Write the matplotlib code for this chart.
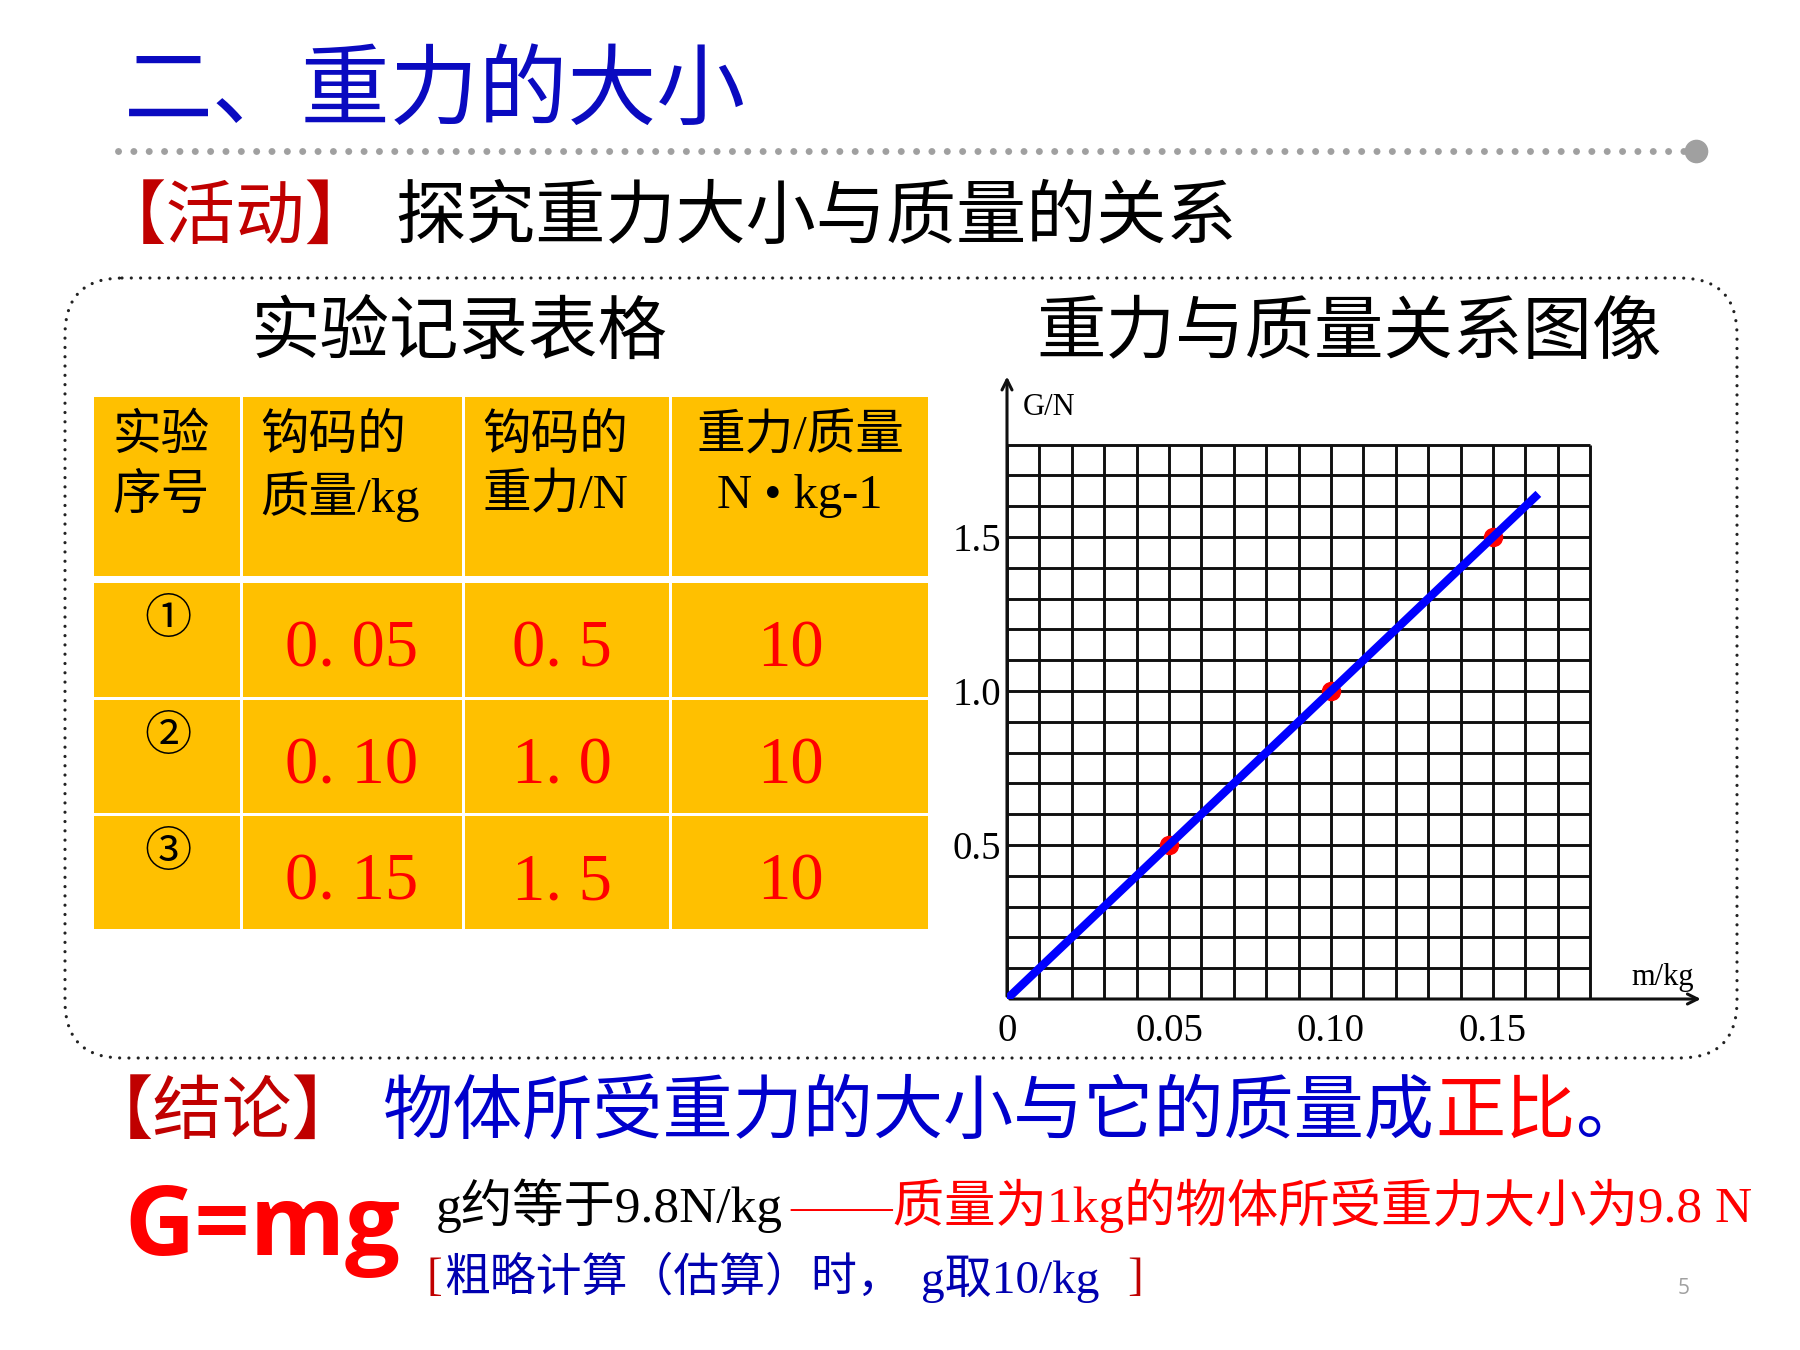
import matplotlib
matplotlib.use('Agg')
import matplotlib.pyplot as plt
import numpy as np
from matplotlib.patches import FancyBboxPatch, Rectangle

plt.rcParams['font.family'] = ['Noto Sans CJK SC', 'DejaVu Sans']
CJK = ['Noto Sans CJK SC', 'DejaVu Sans']
SERIF = ['Liberation Serif', 'Noto Sans CJK SC']

# ---- data ----
trial_no = ['①', '②', '③']
mass_kg = [0.05, 0.10, 0.15]
weight_N = [0.5, 1.0, 1.5]
ratio = [10, 10, 10]
headers = [['实验', '序号'], ['钩码的', '质量/kg'], ['钩码的', '重力/N'], ['重力/质量', 'N • kg-1']]
fit_m = [0, 0.164]
fit_G = [0, 1.64]
x_ticks = [0, 0.05, 0.10, 0.15]
x_ticklabels = ['0', '0.05', '0.10', '0.15']
y_ticks = [0.5, 1.0, 1.5]
y_ticklabels = ['0.5', '1.0', '1.5']
grid_m = np.arange(0, 19) * 0.01
grid_G = np.arange(0, 19) * 0.1

RED = '#FF0000'
DARKRED = '#C00000'
BLUE = '#0000CC'

fig = plt.figure(figsize=(18, 13.5), dpi=100)
fig.patch.set_facecolor('white')

# overlay axes in pixel coords
ax0 = fig.add_axes([0, 0, 1, 1])
ax0.set_xlim(0, 1800)
ax0.set_ylim(1350, 0)
ax0.axis('off')


def em(size):
    return size * 100 / 72


def put_run(x, y, parts, size, family=CJK):
    # all full-width glyphs, advance by em per char
    for s, c in parts:
        ax0.text(x, y, s, color=c, fontsize=size, family=family, va='center', ha='left')
        x += len(s) * em(size)


# title + grey dotted rule
ax0.text(124, 93, '二、重力的大小', color='#0A0AC0', fontsize=64, family=CJK, va='center')
ax0.plot([118, 1686], [151, 151], color='#A0A0A0', lw=5, ls=(0, (0.01, 2.2)),
         dash_capstyle='round')
ax0.plot(1696, 151, 'o', color='#A0A0A0', ms=16)

put_run(97, 218, [('【活动】', DARKRED)], 50)
put_run(395, 218, [('探究重力大小与质量的关系', 'black')], 50.5)

# dotted rounded frame
frame = FancyBboxPatch((65, 278), 1672, 780, boxstyle='round,pad=0,rounding_size=57',
                       fill=False, ec='#222222', lw=2.3, ls=(0, (0.01, 2.9)), capstyle='round')
ax0.add_patch(frame)

ax0.text(459, 333, '实验记录表格', fontsize=50, family=CJK, va='center', ha='center')
ax0.text(1349, 333, '重力与质量关系图像', fontsize=50, family=CJK, va='center', ha='center')

# ---- table ----
col_x = [94, 241, 463, 670, 928]
row_y = [(397, 576), (583, 697), (700, 813), (816, 929)]
for (top, bot) in row_y:
    for i in range(4):
        x1 = col_x[i] + (1.5 if i > 0 else 0)
        x2 = col_x[i + 1] - (1.5 if i < 3 else 0)
        ax0.add_patch(Rectangle((x1, top), x2 - x1, bot - top, color='#FFC000', lw=0))

head_x = [113, 260, 482, 800]
for i, (l1, l2) in enumerate(headers):
    ha = 'center' if i == 3 else 'left'
    ax0.text(head_x[i], 436, l1, fontsize=35, family=SERIF, va='center', ha=ha)
    ax0.text(head_x[i], 496, l2, fontsize=35, family=SERIF, va='center', ha=ha)

val_x = [352, 562, 790]
for r in range(3):
    top, bot = row_y[r + 1]
    yc = (top + bot) / 2 + 10
    ax0.text(168, top + 37, trial_no[r], fontsize=34, family=CJK, va='center', ha='center')
    ax0.text(val_x[0], yc, f'{mass_kg[r]:.2f}'.replace('.', '. '), color=RED, fontsize=48,
             family=SERIF, va='center', ha='center')
    ax0.text(val_x[1], yc, f'{weight_N[r]:.1f}'.replace('.', '. '), color=RED, fontsize=48,
             family=SERIF, va='center', ha='center')
    ax0.text(val_x[2], yc, str(ratio[r]), color=RED, fontsize=48,
             family=SERIF, va='center', ha='center')

# ---- graph ----
px_m = 3240   # px per kg
px_G = 308    # px per N
ox, oy = 1007, 999
xmax, ymax = 0.215, 2.03
ax = fig.add_axes([ox / 1800, (1350 - oy) / 1350, xmax * px_m / 1800, ymax * px_G / 1350])
ax.set_xlim(0, xmax)
ax.set_ylim(0, ymax)
ax.patch.set_alpha(0)
for s in ax.spines.values():
    s.set_visible(False)

ax.vlines(grid_m, 0, grid_G[-1], color='#101010', lw=2.1, zorder=1)
ax.hlines(grid_G, 0, grid_m[-1], color='#101010', lw=2.1, zorder=1)

ax.annotate('', xy=(xmax, 0), xytext=(0, 0), annotation_clip=False,
            arrowprops=dict(arrowstyle='->', lw=2.2, color='#101010', mutation_scale=18))
ax.annotate('', xy=(0, ymax), xytext=(0, 0), annotation_clip=False,
            arrowprops=dict(arrowstyle='->', lw=2.2, color='#101010', mutation_scale=18))

ax.plot(mass_kg, weight_N, 'o', color=RED, ms=13, zorder=3)
ax.plot(fit_m, fit_G, color='#0000FF', lw=6, solid_capstyle='butt', zorder=4)

ax.set_xticks(x_ticks)
ax.set_xticklabels(x_ticklabels, family='Liberation Serif', fontsize=28)
ax.set_yticks(y_ticks)
ax.set_yticklabels(y_ticklabels, family='Liberation Serif', fontsize=28)
ax.tick_params(length=0)
ax.tick_params(axis='x', pad=10)
ax.tick_params(axis='y', pad=4)

ax.text(0.0048, 1.92, 'G/N', family='Liberation Serif', fontsize=22, va='center', ha='left')
ax.text(0.2025, 0.07, 'm/kg', family='Liberation Serif', fontsize=22, va='center', ha='center')

# ---- conclusion ----
put_run(84, 1113, [('【结论】', DARKRED)], 50)
put_run(383, 1113, [('物体所受重力的大小与它的质量成', BLUE), ('正比', RED), ('。', BLUE)], 50.5)

ax0.text(124, 1255, 'G=mg', color=RED, fontsize=70, family='Open Sans', weight='bold',
         va='baseline', ha='left')

ax0.text(436, 1206, 'g约等于9.8N/kg', color='black', fontsize=37, family=SERIF, va='center')
ax0.text(790, 1206, '——质量为1kg的物体所受重力大小为9.8 N', color=RED, fontsize=37,
         family=SERIF, va='center')
ax0.text(427, 1279, '[', color=DARKRED, fontsize=34, family=SERIF, va='center')
ax0.text(444, 1279, '粗略计算（估算）时，', color='#0000B0', fontsize=33, family=SERIF, va='center')
ax0.text(921, 1279, 'g取10/kg', color='#0000B0', fontsize=34, family=SERIF, va='center')
ax0.text(1127, 1279, ']', color=DARKRED, fontsize=34, family=SERIF, va='center')

ax0.text(1684, 1288, '5', color='#A0A0A0', fontsize=15, family='Open Sans', va='center',
         ha='center')

fig.savefig('out.png', dpi=100)
